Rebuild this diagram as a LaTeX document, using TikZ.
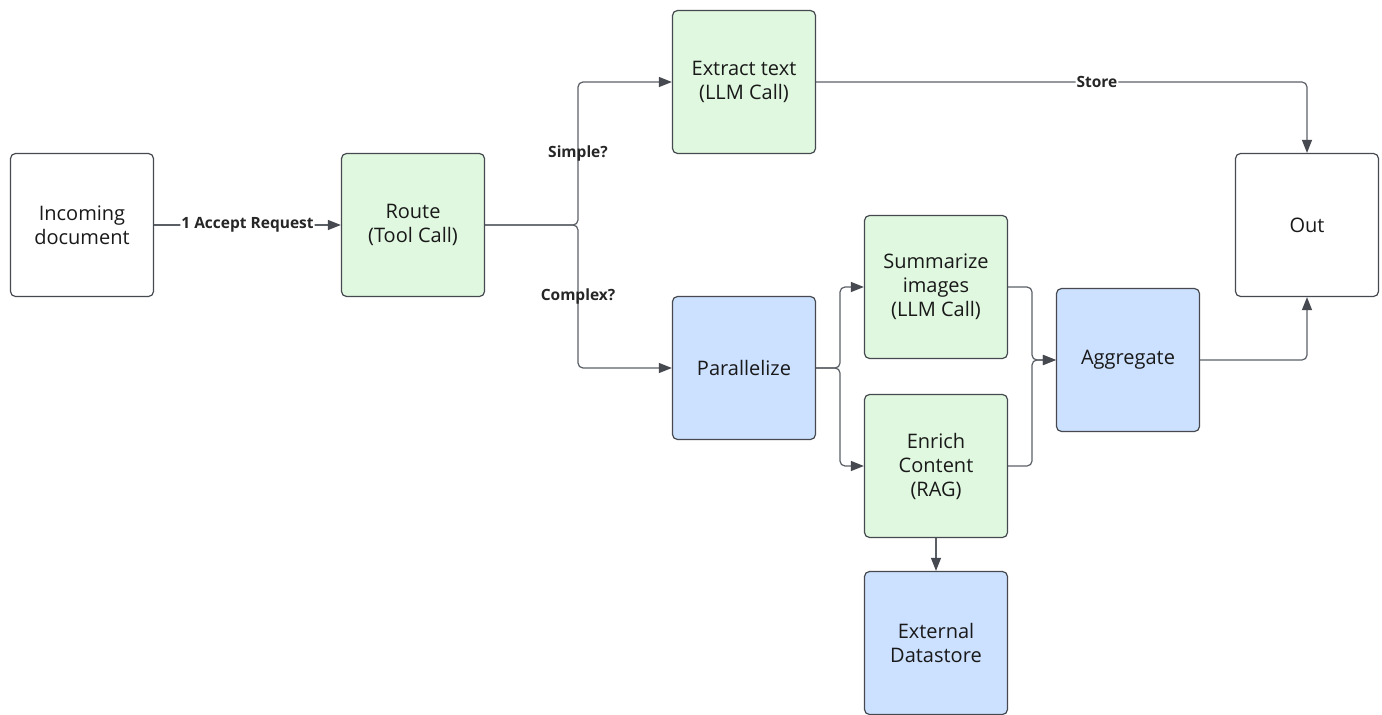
\documentclass[tikz,border=0pt]{standalone}
\usepackage{fontspec}
\setmainfont{Open Sans}
\usetikzlibrary{arrows.meta}
\definecolor{lgreen}{RGB}{224,248,224}
\definecolor{lblue}{RGB}{204,224,255}
\definecolor{edge}{RGB}{90,95,102}
\definecolor{border}{RGB}{70,74,80}
\begin{document}
\begin{tikzpicture}[x=1pt,y=-1pt,
  box/.style={draw=border,line width=1.2pt,rounded corners=5pt,minimum width=143pt,minimum height=143pt,
    align=center,font=\fontsize{20}{24}\selectfont,text=black!90},
  gbox/.style={box,fill=lgreen},
  bbox/.style={box,fill=lblue},
  wbox/.style={box,fill=white},
  conn/.style={draw=edge,line width=1.2pt,rounded corners=5pt,-{Triangle[length=13pt,width=10pt,fill=border,color=border]}},
  lbl/.style={font=\bfseries\fontsize{15.5}{17}\selectfont,text=black!85,inner sep=1pt},
  wlbl/.style={lbl,fill=white}]
\useasboundingbox (0,0) rectangle (1382,715);
\node[wbox] (in) at (82,225) {Incoming\\document};
\node[gbox] (route) at (413,225) {Route\\(Tool Call)};
\node[gbox] (extract) at (744,82) {Extract text\\(LLM Call)};
\node[wbox] (out) at (1307,225) {Out};
\node[bbox] (par) at (744,368) {Parallelize};
\node[gbox] (sum) at (936,287) {Summarize\\images\\(LLM Call)};
\node[gbox] (enr) at (936,466) {Enrich\\Content\\(RAG)};
\node[bbox] (agg) at (1128,360) {Aggregate};
\node[bbox] (ext) at (936,643) {External\\Datastore};
\coordinate (f1) at (578,225);
\coordinate (f2) at (840,368);
\coordinate (f3a) at (1032,287);
\coordinate (f3b) at (1032,466);
\draw[conn] (in.east) -- node[wlbl] {1 Accept Request} (route.west);
\draw[conn] (route.east) -- (f1) |- node[lbl,pos=0.25] {Simple?} (extract.west);
\draw[conn] (route.east) -- (f1) |- node[lbl,pos=0.25] {Complex?} (par.west);
\draw[conn] (extract.east) -| node[wlbl,pos=0.286] {Store} (out.north);
\draw[conn] (par.east) -- (f2) |- (sum.west);
\draw[conn] (par.east) -- (f2) |- (enr.west);
\draw[conn] (sum.east) -- (f3a) |- (agg.west);
\draw[conn] (enr.east) -- (f3b) |- (agg.west);
\draw[conn] (enr.south) -- (ext.north);
\draw[conn] (agg.east) -| (out.south);
\end{tikzpicture}
\end{document}
